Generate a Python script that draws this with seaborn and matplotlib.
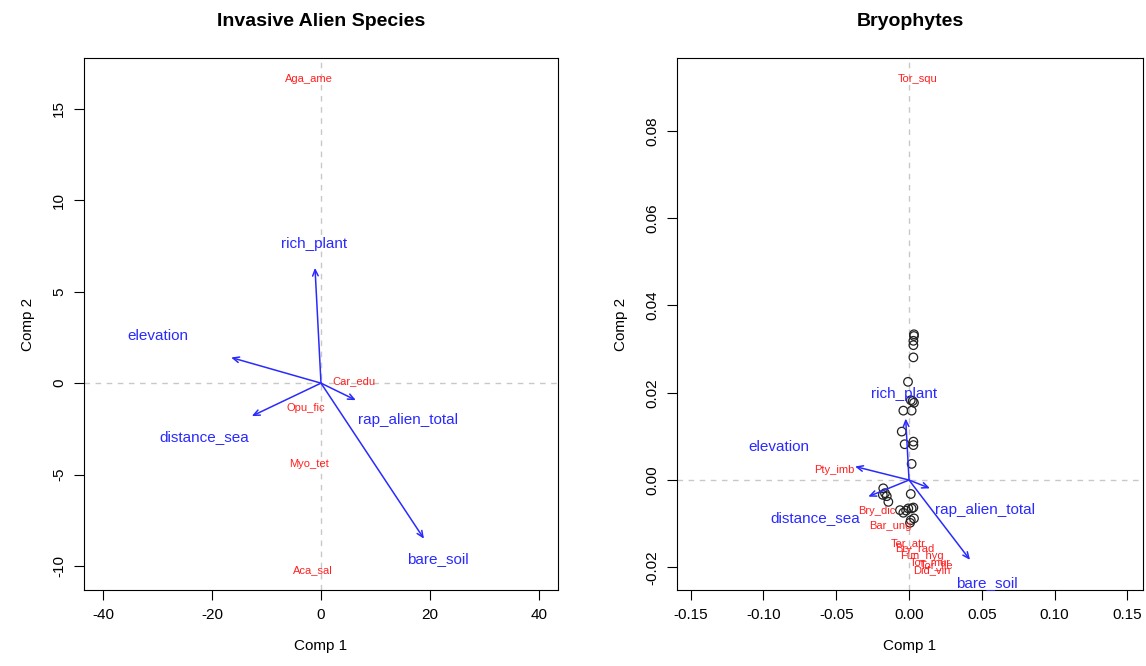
import numpy as np
import pandas as pd
import matplotlib
matplotlib.use('Agg')
import matplotlib.pyplot as plt
import seaborn as sns

sns.set_style('ticks')
plt.rcParams['font.family'] = ['Liberation Sans', 'DejaVu Sans']
plt.rcParams['axes.unicode_minus'] = False
plt.rcParams['text.color'] = 'black'
plt.rcParams['axes.labelcolor'] = 'black'
plt.rcParams['xtick.color'] = 'black'
plt.rcParams['ytick.color'] = 'black'

# environmental variables (arrows)
env_vars = ['rich_plant', 'elevation', 'distance_sea', 'rap_alien_total', 'bare_soil']

# Invasive alien species panel
ias_arrow_x = [-1.1, -16.5, -12.7, 6.4, 18.9]
ias_arrow_y = [6.3, 1.4, -1.8, -0.93, -8.5]
ias_label_x = [-1.3, -30.0, -21.5, 16.0, 21.5]
ias_label_y = [7.6, 2.6, -2.95, -2.0, -9.6]
ias_species = ['Aga_ame', 'Car_edu', 'Opu_fic', 'Myo_tet', 'Aca_sal']
ias_sp_x = [-2.2, 6.1, -2.75, -2.2, -1.5]
ias_sp_y = [16.6, 0.1, -1.37, -4.4, -10.2]

# Bryophytes panel
bry_arrow_x = [-0.0023, -0.0371, -0.0280, 0.0144, 0.0419]
bry_arrow_y = [0.0141, 0.0031, -0.0038, -0.0019, -0.0183]
bry_label_x = [-0.0034, -0.0893, -0.0646, 0.0520, 0.0534]
bry_label_y = [0.0197, 0.0076, -0.0088, -0.0069, -0.0237]
bry_species = ['Tor_squ', 'Pty_imb', 'Bry_dic', 'Bar_ung', 'Ter_atr', 'Bry_rad',
               'Fun_hyg', 'Tor_mur', 'Tor_fle', 'Did_vin']
bry_sp_x = [0.0062, -0.0513, -0.0222, -0.0130, -0.0005, 0.0041,
            0.0087, 0.0144, 0.0190, 0.0156]
bry_sp_y = [0.0919, 0.0023, -0.0070, -0.0105, -0.0145, -0.0158,
            -0.0174, -0.0187, -0.0195, -0.0206]
# site scores
site_x = [0.0034, 0.0034, 0.0030, 0.0030, 0.0030, -0.0007, 0.0012, 0.0034, 0.0025,
          -0.0039, 0.0018, -0.0050, -0.0030, 0.0030, 0.0030, 0.0018,
          -0.0177, -0.0165, -0.0153, -0.0180, -0.0142, 0.0012, -0.0062, -0.0039,
          -0.0005, 0.0018, 0.0030, -0.0020, 0.0012, 0.0034, 0.0007]
site_y = [0.0334, 0.0330, 0.0319, 0.0309, 0.0281, 0.0225, 0.0183, 0.0177, 0.0181,
          0.0159, 0.0159, 0.0111, 0.0082, 0.0088, 0.0080, 0.0037,
          -0.0019, -0.0030, -0.0037, -0.0034, -0.0050, -0.0032, -0.0069, -0.0075,
          -0.0065, -0.0065, -0.0063, -0.0070, -0.0092, -0.0088, -0.0098]
sites = pd.DataFrame({'x': site_x, 'y': site_y})

fig = plt.figure(figsize=(11.46, 6.66), dpi=100)
ax1 = fig.add_axes([0.0733, 0.1141, 0.4136, 0.7988])
ax2 = fig.add_axes([0.5908, 0.1141, 0.4066, 0.7988])

blue = '#2a2aff'
red = '#ff2020'


def biplot(ax, ax_x, ax_y, lab_x, lab_y, sp, sp_x, sp_y, xlim, ylim, title):
    ax.axhline(0, color='#c8c8c8', ls=(0, (4, 4)), lw=1, zorder=0)
    ax.axvline(0, color='#c8c8c8', ls=(0, (4, 4)), lw=1, zorder=0)
    for name, x, y, tx, ty in zip(env_vars, ax_x, ax_y, lab_x, lab_y):
        ax.annotate('', xy=(x, y), xytext=(0, 0),
                    arrowprops=dict(arrowstyle='->,head_length=0.45,head_width=0.2',
                                    color=blue, lw=1.1, shrinkA=0, shrinkB=0))
        ax.text(tx, ty, name, color=blue, fontsize=11, ha='center', va='center')
    for name, x, y in zip(sp, sp_x, sp_y):
        ax.text(x, y, name, color=red, fontsize=8, ha='center', va='center')
    ax.set_xlim(*xlim)
    ax.set_ylim(*ylim)
    ax.set_title(title, fontsize=14, fontweight='bold', pad=23, color='black')
    ax.set_xlabel('Comp 1', fontsize=11, labelpad=12)
    ax.set_ylabel('Comp 2', fontsize=11, labelpad=12)
    ax.tick_params(direction='out', length=7, width=0.8, labelsize=11, pad=6)
    plt.setp(ax.get_yticklabels(), rotation=90, va='center')
    for s in ax.spines.values():
        s.set_visible(True)
        s.set_linewidth(0.8)
        s.set_color('black')


biplot(ax1, ias_arrow_x, ias_arrow_y, ias_label_x, ias_label_y,
       ias_species, ias_sp_x, ias_sp_y, (-43.5, 43.5), (-11.3, 17.76),
       'Invasive Alien Species')
ax1.set_xticks([-40, -20, 0, 20, 40])
ax1.set_yticks([-10, -5, 0, 5, 10, 15])

sns.scatterplot(data=sites, x='x', y='y', ax=ax2, marker='o', s=38,
                facecolor='none', edgecolor='#222222', linewidth=0.9, zorder=1)
biplot(ax2, bry_arrow_x, bry_arrow_y, bry_label_x, bry_label_y,
       bry_species, bry_sp_x, bry_sp_y, (-0.1593, 0.1607), (-0.0252, 0.0967),
       'Bryophytes')
ax2.set_xticks([-0.15, -0.10, -0.05, 0.00, 0.05, 0.10, 0.15])
ax2.set_xticklabels(['-0.15', '-0.10', '-0.05', '0.00', '0.05', '0.10', '0.15'])
ax2.set_yticks([-0.02, 0.00, 0.02, 0.04, 0.06, 0.08])
ax2.set_yticklabels(['-0.02', '0.00', '0.02', '0.04', '0.06', '0.08'],
                    rotation=90, va='center')

fig.savefig('out.png', dpi=100)
